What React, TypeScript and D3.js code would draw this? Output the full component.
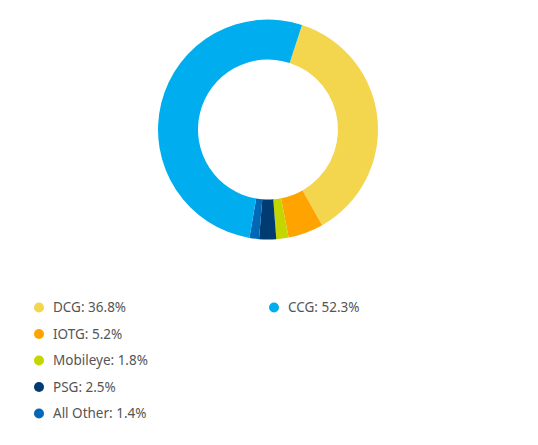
import * as d3 from "d3";

// segment shares, in drawing order (clockwise)
const segments = ["DCG", "IOTG", "Mobileye", "PSG", "All Other", "CCG"];
const shares = [36.8, 5.2, 1.8, 2.5, 1.4, 52.3];
const colors = ["#f3d54e", "#ffa300", "#c4d600", "#003c71", "#0068b5", "#00aeef"];

// legend layout as in the reference: left column, then right column
const legendLeft = ["DCG", "IOTG", "Mobileye", "PSG", "All Other"];
const legendRight = ["CCG"];

const width = 538;
const height = 445;
const cx = 268;
const cy = 129.5;
const outerR = 110;
const innerR = 70;
const startDeg = 18;

export default function App() {
    const pie = d3
        .pie<number>()
        .sort(null)
        .value((d) => d)
        .startAngle((startDeg * Math.PI) / 180)
        .endAngle(((startDeg + 360) * Math.PI) / 180);
    const arcs = pie(shares);
    const arc = d3.arc<d3.PieArcDatum<number>>().innerRadius(innerR).outerRadius(outerR);

    const color = d3.scaleOrdinal<string, string>().domain(segments).range(colors);
    const row = d3.scaleLinear().domain([0, 1]).range([307.5, 334]);

    const legendItem = (name: string, i: number, x: number) => {
        const v = shares[segments.indexOf(name)];
        return (
            <g key={name} transform={`translate(${x},${row(i)})`}>
                <circle r={5} fill={color(name)} />
                <text x={14} dy="0.35em" fontSize={13.5} fill="#555">
                    {`${name}: ${v}%`}
                </text>
            </g>
        );
    };

    return (
        <svg
            width={width}
            height={height}
            style={{ position: "absolute", left: 0, top: 0, fontFamily: "'Noto Sans', sans-serif" }}
        >
            <rect width={width} height={height} fill="#fff" />
            <g transform={`translate(${cx},${cy})`}>
                {arcs.map((a, i) => (
                    <path key={segments[i]} d={arc(a) ?? ""} fill={colors[i]} />
                ))}
            </g>
            {legendLeft.map((n, i) => legendItem(n, i, 39))}
            {legendRight.map((n, i) => legendItem(n, i, 274))}
        </svg>
    );
}
